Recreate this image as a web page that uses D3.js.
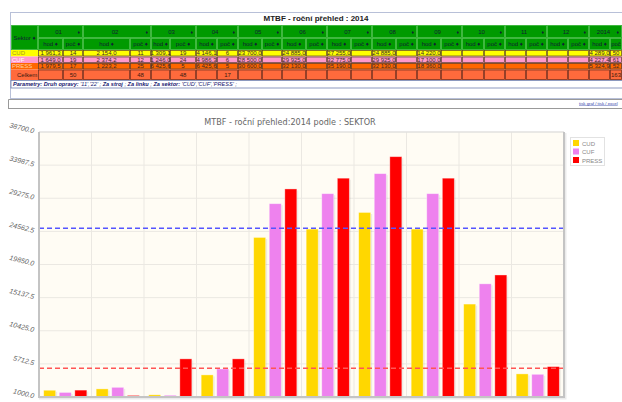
<!DOCTYPE html>
<html>
<head>
<meta charset="utf-8">
<script src="https://cdn.jsdelivr.net/npm/d3@7"></script>
<style>
body { margin: 0; background: #fff; }
svg { display: block; font-family: "Liberation Sans", Arial, sans-serif; }
</style>
</head>
<body>
<svg id="page" width="622" height="402"></svg>
<script>
// ---- data ----
const months = ['01', '02', '03', '04', '05', '06', '07', '08', '09', '10', '11', '12', '2014'];
const sectors = ['CUD', 'CUF', 'PRESS'];

const hodCUD   = [1961.3, 2154.0, 1309.1, 4146.1, 23700.0, 24885.0, 27255.0, 24885.0, 14220.0, null, null, null, 4289.0];
const hodCUF   = [1649.0, 2374.2, 1246.0, 4986.3, 28500.0, 29925.0, 32775.0, 29925.0, 17100.0, null, null, null, 4227.4];
const hodPRESS = [1979.5, 1223.2, 6425.6, 6425.6, 30600.0, 32130.0, 35190.0, 32130.0, 18360.0, null, null, null, 5324.9];

const pocCUD   = [14, 11, 19, 6, null, null, null, null, null, null, null, null, 50];
const pocCUF   = [19, 12, 24, 6, null, null, null, null, null, null, null, null, 61];
const pocPRESS = [17, 25, 5, 5, null, null, null, null, null, null, null, null, 52];
const pocCelkem = [50, 48, 48, 17, null, null, null, null, null, null, null, null, 163];

const yTicks = [1000.0, 5712.5, 10425.0, 15137.5, 19850.0, 24562.5, 29275.0, 33987.5, 38700.0];
const limitHigh = 25000;   // blue dashed line
const limitLow = 5100;     // red dashed line

const hod = { CUD: hodCUD, CUF: hodCUF, PRESS: hodPRESS };
const poc = { CUD: pocCUD, CUF: pocCUF, PRESS: pocPRESS };

const svg = d3.select('#page');
const cz = d3.formatLocale({ decimal: ',', thousands: '\u00a0', grouping: [3] });
const fmtHod = cz.format(',.1f');

// ---- table ----
// column widths (hod, poc) per month
const colW = [[25, 20], [47, 21], [19, 26], [21, 21], [24, 20], [24, 21], [24, 21], [24, 21],
              [24, 21], [22, 21], [21, 21], [21, 21], [21, 12]];
const cols = [];
let cx = 38;
colW.forEach((w, i) => {
    cols.push({ m: months[i], x: cx, hw: w[0], pw: w[1] });
    cx += w[0] + w[1];
});

const rowColor = { CUD: '#ffff00', CUF: '#ff99cc', PRESS: '#ff6600' };
const labColor = { CUD: '#a89a20', CUF: '#fff', PRESS: '#ffd0a0' };
const green = '#009a00';

const tbl = svg.append('g').attr('class', 'table').style('font-size', '6px');

// outer frame + title
tbl.append('rect').attr('x', 10.5).attr('y', 12.5).attr('width', 640).attr('height', 86)
    .attr('fill', '#fff').attr('stroke', '#b8c0d8');
tbl.append('text').attr('x', 316).attr('y', 21).attr('text-anchor', 'middle')
    .style('font-size', '8px').style('font-weight', 'bold').attr('fill', '#222')
    .text('MTBF - roční přehled : 2014');

// header
tbl.append('rect').attr('x', 11).attr('y', 25).attr('width', 640).attr('height', 25).attr('fill', green);
const hcell = (x, y, w, h) => tbl.append('rect').attr('x', x + 0.5).attr('y', y + 0.5)
    .attr('width', w - 1).attr('height', h - 1).attr('fill', 'none').attr('stroke', '#4fc04f').attr('stroke-width', 0.8);
hcell(11, 25, 27, 25);
tbl.append('text').attr('x', 24.5).attr('y', 40).attr('text-anchor', 'middle').attr('fill', '#123')
    .text('Sektor \u2666');
cols.forEach(c => {
    hcell(c.x, 25, c.hw + c.pw, 13);
    hcell(c.x, 38, c.hw, 12);
    hcell(c.x + c.hw, 38, c.pw, 12);
    tbl.append('text').attr('x', c.x + (c.hw + c.pw) / 2 - 2).attr('y', 33.5).attr('text-anchor', 'middle')
        .attr('fill', '#123').text(c.m);
    tbl.append('text').attr('x', c.x + c.hw + c.pw - 3).attr('y', 33.5).attr('text-anchor', 'end')
        .attr('fill', '#123').style('font-size', '5px').text('\u2666');
    tbl.append('text').attr('x', c.x + c.hw / 2).attr('y', 46).attr('text-anchor', 'middle')
        .attr('fill', '#123').text('hod \u2666');
    tbl.append('text').attr('x', c.x + c.hw + c.pw / 2).attr('y', 46).attr('text-anchor', 'middle')
        .attr('fill', '#123').text(c.pw < 15 ? 'poč' : 'poč \u2666');
});

// data rows
const rowH = 6.5;
sectors.forEach((s, r) => {
    const ry = 50 + r * rowH;
    tbl.append('rect').attr('x', 11).attr('y', ry).attr('width', 640).attr('height', rowH).attr('fill', rowColor[s]);
    tbl.append('text').attr('x', 12).attr('y', ry + 5.3).attr('fill', labColor[s]).text(s);
    cols.forEach((c, i) => {
        [[c.x, c.hw], [c.x + c.hw, c.pw]].forEach(([x, w]) => {
            tbl.append('rect').attr('x', x + 0.5).attr('y', ry + 0.5).attr('width', w - 1).attr('height', rowH - 1)
                .attr('fill', 'none').attr('stroke', '#5a4030').attr('stroke-width', 0.7);
        });
        const h = hod[s][i], p = poc[s][i];
        if (h != null) tbl.append('text').attr('x', c.x + c.hw / 2).attr('y', ry + 5.3)
            .attr('text-anchor', 'middle').attr('fill', '#3a2a2a').text(fmtHod(h));
        if (p != null) tbl.append('text').attr('x', c.x + c.hw + c.pw / 2).attr('y', ry + 5.3)
            .attr('text-anchor', 'middle').attr('fill', '#3a2a2a').text(p);
    });
});

// total row
const yT = 50 + 3 * rowH;
tbl.append('rect').attr('x', 11).attr('y', yT).attr('width', 640).attr('height', 80 - yT).attr('fill', '#ff6a3c');
tbl.append('text').attr('x', 17).attr('y', yT + 7.3).attr('fill', '#3a1a10').text('Celkem');
cols.forEach((c, i) => {
    [[c.x, c.hw], [c.x + c.hw, c.pw]].forEach(([x, w]) => {
        tbl.append('rect').attr('x', x + 0.5).attr('y', yT + 0.5).attr('width', w - 1).attr('height', 80 - yT - 1)
            .attr('fill', 'none').attr('stroke', '#6a3020').attr('stroke-width', 0.7);
    });
    if (pocCelkem[i] != null) tbl.append('text').attr('x', c.x + c.hw + c.pw / 2).attr('y', yT + 7.3)
        .attr('text-anchor', 'middle').attr('fill', '#3a1a10').text(pocCelkem[i]);
});

// parameters row
tbl.append('rect').attr('x', 11).attr('y', 80.5).attr('width', 640).attr('height', 7.5)
    .attr('fill', '#fff').attr('stroke', '#7080b0').attr('stroke-width', 0.8);
const par = tbl.append('text').attr('x', 13).attr('y', 86.3).attr('fill', '#1a2070')
    .style('font-style', 'italic').style('font-size', '5.6px');
[['Parametry:', 1], [' ', 0], ['Druh opravy:', 1], [" '11','22' ; ", 0], ['Za stroj', 1], [' ; ', 0],
 ['Za linku', 1], [' ; ', 0], ['Za sektor:', 1], [" 'CUD','CUF','PRESS' ;", 0]]
    .forEach(([t, b]) => par.append('tspan').style('font-weight', b ? 'bold' : 'normal').text(t));

// links box
svg.append('path').attr('d', 'M8.5,109 V99.5 H640 M8.5,108.5 H640').attr('fill', 'none')
    .attr('stroke', '#999').attr('stroke-width', 1);
svg.append('text').attr('x', 579).attr('y', 104.5).style('font-size', '4.3px').attr('fill', '#3344aa')
    .style('text-decoration', 'underline').text('tisk graf / tisk / excel');

// ---- chart ----
const chartCats = months.filter((m, i) => hodCUD[i] != null);
const pLeft = 39, pRight = 564, pTop = 132, pBottom = 397;

const x0 = d3.scaleBand().domain(chartCats).range([pLeft, pRight]);
const x1 = d3.scaleBand().domain(sectors).range([0, x0.bandwidth()]).paddingInner(0.23).paddingOuter(0.3);
const y = d3.scaleLinear().domain([yTicks[0], yTicks[yTicks.length - 1]]).range([pBottom, pTop]);
const color = d3.scaleOrdinal().domain(sectors).range(['#ffd700', '#ee82ee', '#ff0000']);

const chart = svg.append('g').attr('class', 'chart');

chart.append('text').attr('x', 290).attr('y', 125).attr('text-anchor', 'middle')
    .style('font-family', '"DejaVu Sans Condensed", "DejaVu Sans", sans-serif')
    .style('font-size', '9px').attr('fill', '#666')
    .text('MTBF - roční přehled:2014 podle : SEKTOR');

chart.append('rect').attr('x', pLeft).attr('y', pTop).attr('width', pRight - pLeft).attr('height', pBottom - pTop)
    .attr('fill', '#fffcf4');

// grid
chart.append('g').selectAll('line').data(yTicks).join('line')
    .attr('x1', pLeft).attr('x2', pRight).attr('y1', d => y(d)).attr('y2', d => y(d))
    .attr('stroke', '#ebe8e2').attr('stroke-width', 1);
chart.append('g').selectAll('line').data(chartCats).join('line')
    .attr('x1', d => x0(d)).attr('x2', d => x0(d)).attr('y1', pTop).attr('y2', pBottom)
    .attr('stroke', '#ebe8e2').attr('stroke-width', 1);

// y tick labels (slanted down to the right)
chart.append('g').selectAll('text').data(yTicks).join('text')
    .attr('x', 34).attr('y', d => y(d) + 1.5)
    .attr('text-anchor', 'end')
    .attr('transform', d => `rotate(14, 34, ${y(d)})`)
    .style('font-size', '7px').style('font-style', 'italic').attr('fill', '#666')
    .text(d => d3.format('.1f')(d));

// bars
const groups = chart.append('g').selectAll('g').data(chartCats).join('g')
    .attr('transform', d => `translate(${x0(d)},0)`);
const barData = d => sectors.map(s => ({ s, v: hod[s][months.indexOf(d)] }));
groups.selectAll('rect.shadow').data(barData).join('rect').attr('class', 'shadow')
    .attr('x', d => x1(d.s) + 1.5).attr('y', d => y(d.v) + 1.5)
    .attr('width', x1.bandwidth()).attr('height', d => pBottom - y(d.v) - 1.5)
    .attr('fill', 'rgba(0,0,0,0.07)');
groups.selectAll('rect.bar').data(barData).join('rect').attr('class', 'bar')
    .attr('x', d => x1(d.s)).attr('y', d => y(d.v))
    .attr('width', x1.bandwidth()).attr('height', d => pBottom - y(d.v))
    .attr('fill', d => color(d.s))
    .attr('stroke', 'rgba(255,255,255,0.45)').attr('stroke-width', 0.8);

// limit lines
chart.append('line').attr('x1', pLeft).attr('x2', pRight).attr('y1', y(limitHigh)).attr('y2', y(limitHigh))
    .attr('stroke', '#5555ff').attr('stroke-width', 1.5).attr('stroke-dasharray', '5,3');
chart.append('line').attr('x1', pLeft).attr('x2', pRight).attr('y1', y(limitLow)).attr('y2', y(limitLow))
    .attr('stroke', '#ff5555').attr('stroke-width', 1.5).attr('stroke-dasharray', '5,3');

// plot border
chart.append('line').attr('x1', pLeft).attr('x2', pRight).attr('y1', pTop).attr('y2', pTop)
    .attr('stroke', '#ddd').attr('stroke-width', 1);
chart.append('path').attr('d', `M${pRight + 1.5},${pTop + 1} V${pBottom + 1.5} H${pLeft}`)
    .attr('fill', 'none').attr('stroke', 'rgba(0,0,0,0.08)').attr('stroke-width', 2);
chart.append('path').attr('d', `M${pLeft},${pTop} V${pBottom} H${pRight} V${pTop}`)
    .attr('fill', 'none').attr('stroke', '#c4c4c4').attr('stroke-width', 2);

// legend
const lg = chart.append('g').attr('transform', 'translate(570,137)');
lg.append('rect').attr('x', 0.5).attr('y', 0.5).attr('width', 34).attr('height', 28)
    .attr('fill', '#fff').attr('stroke', '#e2e2e2');
lg.selectAll('rect.sw').data(sectors).join('rect').attr('class', 'sw')
    .attr('x', 3).attr('y', (d, i) => 3 + i * 8.5).attr('width', 6).attr('height', 6)
    .attr('fill', d => color(d));
lg.selectAll('text').data(sectors).join('text')
    .attr('x', 12).attr('y', (d, i) => 8.5 + i * 8.5)
    .style('font-size', '6px').attr('fill', '#888').text(d => d);
</script>
</body>
</html>
